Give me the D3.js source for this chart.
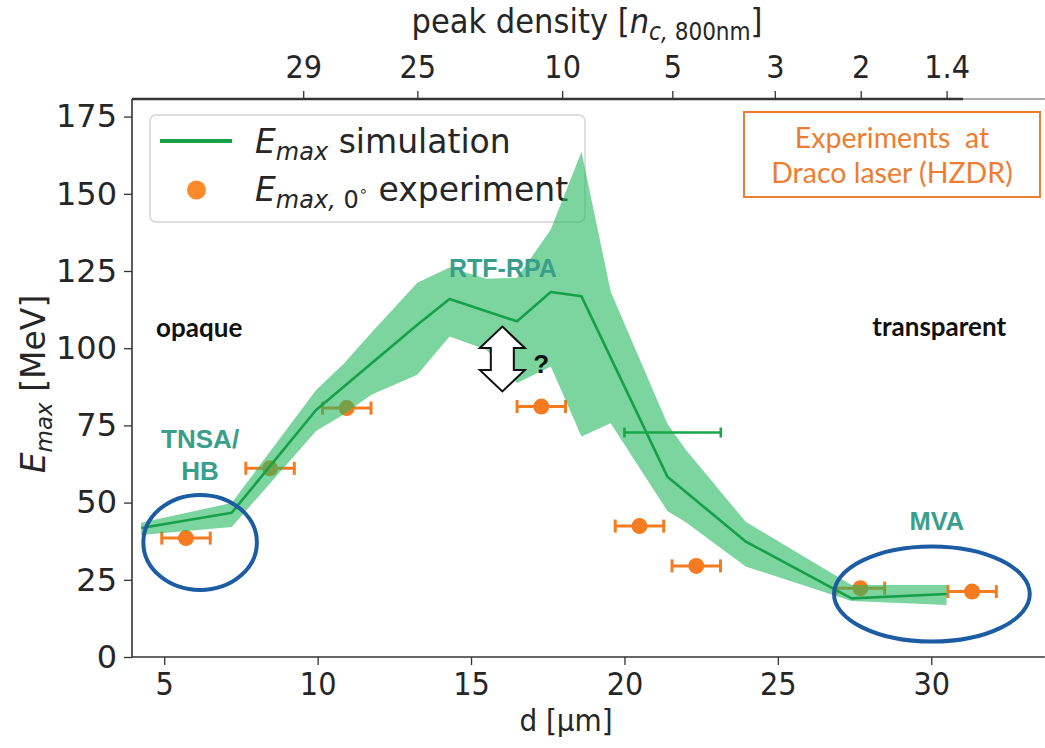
<!DOCTYPE html>
<html>
<head>
<meta charset="utf-8">
<script src="https://cdn.jsdelivr.net/npm/d3@7"></script>
<style>
  html, body { margin: 0; padding: 0; background: #fff; }
  svg { display: block; }
</style>
</head>
<body>
<svg id="chart" width="1045" height="748"></svg>
<script>
// Simulated maximum proton energy (median curve), d in µm, E in MeV
const simD = [4.25, 7.2, 9.95, 13.25, 14.3, 16.5, 17.6, 18.6, 21.4, 23.95, 27.4, 30.5];
const simE = [41.8, 46.7, 80.0, 107.6, 115.9, 108.7, 118.2, 116.8, 58.4, 37.4, 19.0, 20.4];

// Spread of the simulation runs (shaded band)
const bandD    = [4.25, 7.2, 9.95, 10.85, 11.75, 13.25, 14.3, 15.5, 16.5, 17.6, 18.6, 19.55, 21.4, 22.0, 23.95, 27.4, 30.5];
const bandLow  = [39.5, 42.1, 73.2, 78.5, 84.9, 91.4, 103.8, 99.5, 88.7, 94.1, 71.4, 75.7, 47.3, 43.6, 29.3, 18.1, 16.8];
const bandHigh = [43.5, 49.9, 86.5, 95.0, 105.0, 121.2, 126.1, 122.5, 122.8, 138.4, 163.6, 118.4, 75.5, 67.1, 43.8, 23.3, 23.3];

// Measured cut-off energies at 0°, with thickness uncertainty
const expD    = [5.71, 8.45, 10.95, 17.29, 20.49, 22.34, 27.69, 31.33];
const expE    = [38.5, 61.1, 80.6, 81.1, 42.4, 29.5, 22.3, 21.2];
const expDErr = [0.79, 0.79, 0.79, 0.79, 0.79, 0.79, 0.79, 0.79];

// Thickness range marker on the simulation curve
const simBarD    = [21.57];
const simBarE    = [72.7];
const simBarDErr = [1.57];

// Axis ticks
const xTicks = [5, 10, 15, 20, 25, 30];
const yTicks = [0, 25, 50, 75, 100, 125, 150, 175];
// Secondary axis: peak density (in n_c) at the matching thickness
const topTickD      = [9.53, 13.25, 17.97, 21.56, 24.9, 27.7, 30.5];
const topTickLabels = ["29", "25", "10", "5", "3", "2", "1.4"];

const svg = d3.select("#chart");

const x = d3.scaleLinear().domain([3.95, 33.7]).range([132, 1044.8]);
const y = d3.scaleLinear().domain([0, 180.7]).range([657, 99]);

const AX = "#333333";
const TXT = "#262626";
const CONDENSED = "'DejaVu Sans Condensed', 'DejaVu Sans'";
const GREEN = "#15a049";
const ORANGE = "#f47b20";
const TEAL = "#3a9e8c";
const BLUE = "#1c5ca3";

// ---- axes ----
const gBottom = svg.append("g")
  .attr("transform", `translate(0,${y(0)})`)
  .call(d3.axisBottom(x).tickValues(xTicks).tickSize(8).tickPadding(7).tickFormat(d3.format("d")));
gBottom.select(".domain").remove();
gBottom.append("line").attr("x1", x.range()[0]).attr("x2", x.range()[1])
  .attr("stroke", AX).attr("stroke-width", 1.6);
gBottom.selectAll(".tick line").attr("stroke", AX).attr("stroke-width", 1.3);
gBottom.selectAll(".tick text").attr("fill", TXT)
  .style("font-family", CONDENSED).style("font-stretch", "condensed").style("font-size", "32px");

const gLeft = svg.append("g")
  .attr("transform", `translate(${x.range()[0]},0)`)
  .call(d3.axisLeft(y).tickValues(yTicks).tickSize(8).tickPadding(7).tickFormat(d3.format("d")));
gLeft.select(".domain").remove();
gLeft.append("line").attr("y1", y.range()[0]).attr("y2", y.range()[1])
  .attr("stroke", AX).attr("stroke-width", 1.6);
gLeft.selectAll(".tick line").attr("stroke", AX).attr("stroke-width", 1.3);
gLeft.selectAll(".tick text").attr("fill", TXT)
  .style("font-family", "'DejaVu Sans'").style("font-size", "32px");

// top axis: peak density
const topEnd = 963;
const gTop = svg.append("g")
  .attr("transform", `translate(0,${y.range()[1]})`)
  .call(d3.axisTop(x).tickValues(topTickD).tickSize(8).tickPadding(13)
    .tickFormat((d, i) => topTickLabels[i]));
gTop.select(".domain").remove();
gTop.append("line").attr("x1", x.range()[0]).attr("x2", topEnd)
  .attr("stroke", AX).attr("stroke-width", 2.6);
gTop.append("line").attr("x1", topEnd).attr("x2", x.range()[1])
  .attr("stroke", "#555").attr("stroke-width", 1);
gTop.selectAll(".tick line").attr("stroke", AX).attr("stroke-width", 1.3);
gTop.selectAll(".tick text").attr("fill", TXT)
  .style("font-family", CONDENSED).style("font-stretch", "condensed").style("font-size", "32px");

// axis titles
svg.append("text")
  .attr("x", 566).attr("y", 731)
  .attr("text-anchor", "middle").attr("fill", TXT)
  .style("font-family", CONDENSED).style("font-stretch", "condensed").style("font-size", "31px")
  .text("d [µm]");

const topTitle = svg.append("text")
  .attr("x", 587).attr("y", 33)
  .attr("text-anchor", "middle").attr("fill", TXT)
  .style("font-family", CONDENSED).style("font-stretch", "condensed").style("font-size", "34px");
topTitle.append("tspan").text("peak density [");
topTitle.append("tspan").attr("font-style", "italic").text("n");
topTitle.append("tspan").attr("font-style", "italic").attr("font-size", "24px").attr("dy", 7).text("c,");
topTitle.append("tspan").attr("font-size", "24px").text(" 800nm");
topTitle.append("tspan").attr("dy", -7).text("]");

const yTitle = svg.append("text")
  .attr("transform", "translate(45,384) rotate(-90)")
  .attr("text-anchor", "middle").attr("fill", TXT)
  .style("font-family", "'DejaVu Sans'").style("font-size", "33px");
yTitle.append("tspan").attr("font-style", "italic").text("E");
yTitle.append("tspan").attr("font-style", "italic").attr("font-size", "23px").attr("dy", 7).text("max");
yTitle.append("tspan").attr("dy", -7).text(" [MeV]");

// ---- legend ----
const leg = svg.append("g");
leg.append("rect").attr("x", 150).attr("y", 115).attr("width", 435).attr("height", 107)
  .attr("rx", 6).attr("fill", "#fff").attr("stroke", "#d4d4d4").attr("stroke-width", 1.5);
leg.append("line").attr("x1", 160).attr("x2", 232).attr("y1", 141).attr("y2", 141)
  .attr("stroke", GREEN).attr("stroke-width", 4);
leg.append("circle").attr("cx", 196.5).attr("cy", 190).attr("r", 9.5).attr("fill", "#ff8a2b");
const l1 = leg.append("text").attr("x", 255).attr("y", 153).attr("fill", TXT)
  .style("font-family", "'DejaVu Sans'").style("font-size", "33px");
l1.append("tspan").attr("font-style", "italic").text("E");
l1.append("tspan").attr("font-style", "italic").attr("font-size", "24px").attr("dy", 7).text("max");
l1.append("tspan").attr("dy", -7).text(" simulation");
const l2 = leg.append("text").attr("x", 255).attr("y", 201).attr("fill", TXT)
  .style("font-family", "'DejaVu Sans'").style("font-size", "33px");
l2.append("tspan").attr("font-style", "italic").text("E");
l2.append("tspan").attr("font-style", "italic").attr("font-size", "24px").attr("dy", 7).text("max,");
l2.append("tspan").attr("font-size", "24px").text(" 0");
l2.append("tspan").attr("font-size", "15px").attr("dy", -12).text("∘");
l2.append("tspan").attr("dy", 5).text(" experiment");

// ---- experimental points with horizontal error bars ----
const gExp = svg.append("g");
const capH = 6.5;
expD.forEach((d, i) => {
  const x0 = x(d - expDErr[i]), x1 = x(d + expDErr[i]), yy = y(expE[i]);
  gExp.append("line").attr("x1", x0).attr("x2", x1).attr("y1", yy).attr("y2", yy)
    .attr("stroke", ORANGE).attr("stroke-width", 3);
  [x0, x1].forEach(xc => gExp.append("line").attr("x1", xc).attr("x2", xc)
    .attr("y1", yy - capH).attr("y2", yy + capH).attr("stroke", ORANGE).attr("stroke-width", 3));
  gExp.append("circle").attr("cx", x(d)).attr("cy", yy).attr("r", 8).attr("fill", ORANGE);
});

// ---- simulation band and median line ----
const idx = d3.range(bandD.length);
svg.append("path")
  .attr("d", d3.area()
    .x(i => x(bandD[i]))
    .y0(i => y(bandLow[i]))
    .y1(i => y(bandHigh[i]))(idx))
  .attr("fill", "#24b75f").attr("fill-opacity", 0.6);

svg.append("path")
  .attr("d", d3.line().x(i => x(simD[i])).y(i => y(simE[i]))(d3.range(simD.length)))
  .attr("fill", "none").attr("stroke", GREEN).attr("stroke-width", 2.6)
  .attr("stroke-linejoin", "round");

// horizontal thickness-range bar
simBarD.forEach((d, i) => {
  const x0 = x(d - simBarDErr[i]), x1 = x(d + simBarDErr[i]), yy = y(simBarE[i]);
  svg.append("line").attr("x1", x0).attr("x2", x1).attr("y1", yy).attr("y2", yy)
    .attr("stroke", "#1aa64a").attr("stroke-width", 2.6);
  [x0, x1].forEach(xc => svg.append("line").attr("x1", xc).attr("x2", xc)
    .attr("y1", yy - 5).attr("y2", yy + 5).attr("stroke", "#1aa64a").attr("stroke-width", 2.6));
});

// ---- regime markers ----
const ellipses = [
  { d: 6.17, e: 37.1, rd: 1.85, re: 15.4 },
  { d: 30.02, e: 20.4, rd: 3.19, re: 15.4 }
];
ellipses.forEach(el => {
  svg.append("ellipse")
    .attr("cx", x(el.d)).attr("cy", y(el.e))
    .attr("rx", x(el.d + el.rd) - x(el.d)).attr("ry", y(el.e) - y(el.e + el.re))
    .attr("fill", "none").attr("stroke", BLUE).attr("stroke-width", 4);
});

const labels = [
  { t: "opaque",      d: 6.14,  e: 103.6, c: "#111", f: "Lato", s: 26 },
  { t: "transparent", d: 30.26, e: 104.0, c: "#111", f: "Lato", s: 26 },
  { t: "RTF-RPA",     d: 16.04, e: 123.1, c: TEAL,   f: "'Liberation Sans'", s: 25 },
  { t: "TNSA/",       d: 6.17,  e: 67.7,  c: TEAL,   f: "'Liberation Sans'", s: 26 },
  { t: "HB",          d: 6.17,  e: 57.3,  c: TEAL,   f: "'Liberation Sans'", s: 26 },
  { t: "MVA",         d: 30.18, e: 41.1,  c: TEAL,   f: "'Liberation Sans'", s: 25.5 },
  { t: "?",           d: 17.29, e: 92.0,  c: "#111", f: "'Liberation Sans'", s: 26 }
];
labels.forEach(l => {
  svg.append("text").attr("x", x(l.d)).attr("y", y(l.e))
    .attr("text-anchor", "middle").attr("fill", l.c)
    .style("font-family", l.f).style("font-weight", "bold").style("font-size", l.s + "px")
    .text(l.t);
});

// double-headed arrow between simulation and measurement
(function () {
  const cx = x(16.02), yt = y(107.0), yb = y(86.0);
  const hw = 22.5, sw = 11.5, hh = 21.5;
  const p = d3.path();
  p.moveTo(cx, yt);
  p.lineTo(cx + hw, yt + hh);
  p.lineTo(cx + sw, yt + hh);
  p.lineTo(cx + sw, yb - hh);
  p.lineTo(cx + hw, yb - hh);
  p.lineTo(cx, yb);
  p.lineTo(cx - hw, yb - hh);
  p.lineTo(cx - sw, yb - hh);
  p.lineTo(cx - sw, yt + hh);
  p.lineTo(cx - hw, yt + hh);
  p.closePath();
  svg.append("path").attr("d", p.toString())
    .attr("fill", "#fff").attr("stroke", "#111").attr("stroke-width", 2)
    .attr("stroke-linejoin", "miter");
})();

// experiment info box
const box = svg.append("g");
box.append("rect").attr("x", 744).attr("y", 112).attr("width", 296).attr("height", 85)
  .attr("fill", "#fff").attr("stroke", "#ed7d31").attr("stroke-width", 2);
[["Experiments  at", 148], ["Draco laser (HZDR)", 183]].forEach(([t, yy]) => {
  box.append("text").attr("x", 892).attr("y", yy).attr("text-anchor", "middle")
    .attr("fill", "#ed7d31").style("font-family", "Lato").style("font-size", "28.5px")
    .style("white-space", "pre").text(t);
});
</script>
</body>
</html>
